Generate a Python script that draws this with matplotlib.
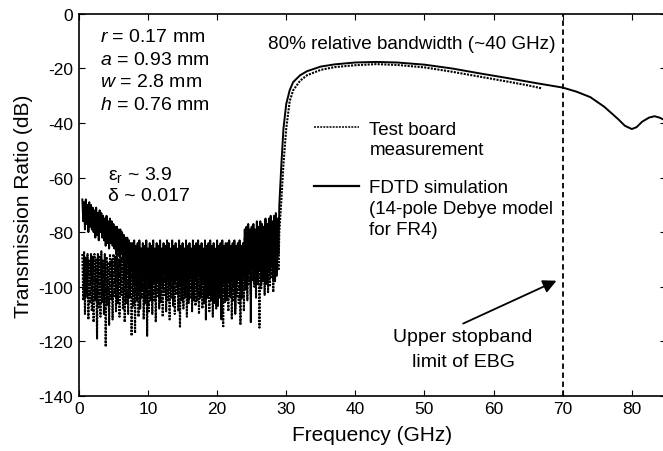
import numpy as np
import matplotlib
matplotlib.use('Agg')
import matplotlib.pyplot as plt
from matplotlib.lines import Line2D

plt.rcParams['font.family'] = ['Liberation Sans', 'DejaVu Sans']
plt.rcParams['mathtext.fontset'] = 'custom'
plt.rcParams['mathtext.rm'] = 'Liberation Sans'
plt.rcParams['mathtext.it'] = 'Liberation Sans:italic'
plt.rcParams['axes.unicode_minus'] = False

# stopband (noisy) part, sampled every 0.125 GHz from 0.5 GHz
noise_freq = np.arange(0.5, 28.9, 0.125)
sim_noise = [-68, -76, -69, -79, -68, -77, -70, -80, -69, -78, -70, -79,
             -71, -80, -72, -82, -71, -81, -73, -83, -72, -80, -73, -82,
             -74, -83, -75, -85, -74, -84, -76, -86, -75, -84, -76, -85,
             -77, -86, -78, -88, -78, -87, -79, -89, -79, -88, -80, -90,
             -81, -92, -82, -95, -82, -91, -83, -97, -84, -93, -84, -98,
             -83, -99, -85, -95, -84, -103, -83, -97, -86, -101, -84, -96,
             -85, -102, -83, -97, -86, -100, -84, -105, -85, -96, -83, -99,
             -86, -101, -84, -97, -85, -104, -83, -98, -86, -100, -84, -96,
             -85, -103, -83, -98, -84, -100, -86, -97, -83, -105, -85, -99,
             -84, -97, -86, -102, -83, -99, -85, -104, -84, -96, -86, -101,
             -83, -98, -85, -103, -84, -97, -86, -100, -83, -105, -85, -98,
             -84, -101, -83, -96, -85, -104, -84, -99, -86, -97, -83, -102,
             -85, -98, -84, -103, -83, -97, -85, -100, -84, -106, -86, -98,
             -83, -101, -85, -97, -84, -112, -83, -99, -85, -96, -84, -102,
             -84, -98, -83, -103, -85, -97, -84, -100, -83, -110, -85, -99,
             -84, -97, -83, -101, -85, -98, -84, -96, -79, -94, -78, -97,
             -77, -95, -79, -113, -78, -93, -77, -98, -79, -95, -76, -97,
             -78, -94, -76, -99, -77, -93, -78, -96, -75, -98, -77, -94,
             -75, -96, -74, -93, -76, -97, -74, -92, -73, -95, -75, -88]
meas_noise = [-88, -105, -87, -110, -89, -104, -88, -112, -90, -106, -88, -109,
              -89, -113, -88, -105, -90, -119, -88, -108, -89, -111, -87, -106,
              -90, -110, -88, -122, -89, -107, -91, -114, -88, -105, -90, -112,
              -88, -104, -89, -109, -87, -106, -90, -111, -88, -103, -89, -108,
              -87, -113, -89, -106, -86, -110, -88, -104, -87, -118, -89, -107,
              -86, -117, -88, -105, -87, -111, -89, -108, -86, -104, -88, -112,
              -87, -106, -86, -118, -88, -109, -87, -103, -89, -110, -86, -105,
              -88, -113, -87, -104, -86, -108, -88, -106, -87, -111, -89, -103,
              -86, -109, -88, -105, -87, -112, -86, -104, -88, -107, -87, -110,
              -89, -103, -86, -109, -88, -115, -87, -105, -86, -108, -88, -104,
              -87, -111, -89, -106, -86, -104, -88, -109, -87, -103, -86, -107,
              -88, -105, -87, -110, -89, -104, -86, -108, -88, -106, -87, -112,
              -86, -104, -88, -109, -87, -105, -86, -111, -88, -103, -87, -108,
              -87, -107, -86, -104, -88, -110, -87, -115, -86, -106, -88, -105,
              -88, -109, -87, -104, -86, -112, -88, -105, -87, -108, -86, -104,
              -87, -106, -86, -114, -88, -104, -87, -109, -82, -101, -81, -105,
              -82, -99, -80, -103, -81, -98, -82, -100, -80, -104, -81, -99,
              -80, -115, -79, -101, -81, -98, -80, -103, -79, -99, -80, -102,
              -78, -100, -79, -97, -78, -102, -77, -98, -79, -96, -78, -94]

# passband (smooth) part
sim_freq = [29.0, 29.3, 29.6, 30.0, 30.5, 31, 32, 33, 35, 37, 40, 43, 46, 50, 54, 58,
            62, 66, 70, 72, 74, 76, 78, 79, 80, 80.7, 81.5, 82.5, 83.3, 84, 85]
sim_pass = [-70, -55, -42, -33, -28, -25, -22.5, -21, -19.3, -18.5, -17.8, -17.6, -17.8,
            -18.6, -20, -21.8, -23.5, -25.3, -27, -28.5, -30.5, -34, -38.5, -41, -42.2,
            -41.5, -39.5, -38, -37.5, -38, -39.2]
meas_freq = [29.0, 29.3, 29.6, 30.0, 30.5, 31, 32, 33, 35, 37, 40, 43, 46, 50, 54, 58,
             62, 65, 67]
meas_pass = [-80, -68, -55, -42, -32, -28, -24.5, -22.5, -20.5, -19.5, -18.8, -18.4,
             -18.7, -19.6, -21.2, -23, -24.8, -26.2, -27.3]

f_sim = np.concatenate([noise_freq, sim_freq])
y_sim = np.concatenate([sim_noise, sim_pass])
f_meas = np.concatenate([noise_freq, meas_freq])
y_meas = np.concatenate([meas_noise, meas_pass])

fig = plt.figure(figsize=(6.63, 4.52), dpi=100)
ax = fig.add_axes([0.119, 0.122, 0.885, 0.845])

meas_style = dict(color='black', ls=(0, (1, 0.6)))
ax.plot(f_meas, y_meas, lw=1.5, **meas_style)
ax.plot(f_sim, y_sim, color='black', lw=1.4)
ax.axvline(70, color='black', lw=1.3, ls=(0, (3, 2)))

ax.set_xlim(0, 84.9)
ax.set_ylim(-140, 0)
ax.set_xticks(np.arange(0, 90, 10))
ax.set_yticks(np.arange(-140, 1, 20))
ax.tick_params(direction='in', top=True, right=True, labelsize=12.5, length=4, pad=4)
for s in ax.spines.values():
    s.set_linewidth(1.2)
ax.set_xlabel('Frequency (GHz)', fontsize=15, labelpad=6)
ax.set_ylabel('Transmission Ratio (dB)', fontsize=15, labelpad=4)

params = '$r$ = 0.17 mm\n$a$ = 0.93 mm\n$w$ = 2.8 mm\n$h$ = 0.76 mm'
ax.text(3.0, -5.3, params, fontsize=14, va='top', linespacing=1.42)
ax.text(4.2, -55.0, 'ε$_{\\rm r}$ ~ 3.9\nδ ~ 0.017', fontsize=14, va='top', linespacing=1.25)
ax.text(27.3, -11, '80% relative bandwidth (~40 GHz)', fontsize=13.6, va='center')

ax.annotate('Upper stopband\nlimit of EBG', xy=(69.1, -97.8), xytext=(55.6, -122.7),
            fontsize=14, ha='center', va='center', linespacing=1.6,
            arrowprops=dict(arrowstyle='-|>', color='black', lw=1.3,
                            mutation_scale=20, shrinkA=0, shrinkB=0, relpos=(0.5, 1.1)))

handles = [Line2D([], [], color='#333333', lw=1.4, ls=(0, (1, 0.6))),
           Line2D([], [], color='black', lw=1.6)]
labels = ['Test board\nmeasurement', 'FDTD simulation\n(14-pole Debye model\nfor FR4)']
leg = ax.legend(handles, labels, loc='upper left', bbox_to_anchor=(0.372, 0.765),
                frameon=False, fontsize=13.5, handlelength=2.4, handletextpad=0.55,
                labelspacing=1.1)
for t in leg.get_texts():
    t.set_linespacing(1.3)
for col in leg._legend_handle_box.get_children():
    for row in col.get_children():
        row.align = 'top'

fig.savefig('out.png', dpi=100)
